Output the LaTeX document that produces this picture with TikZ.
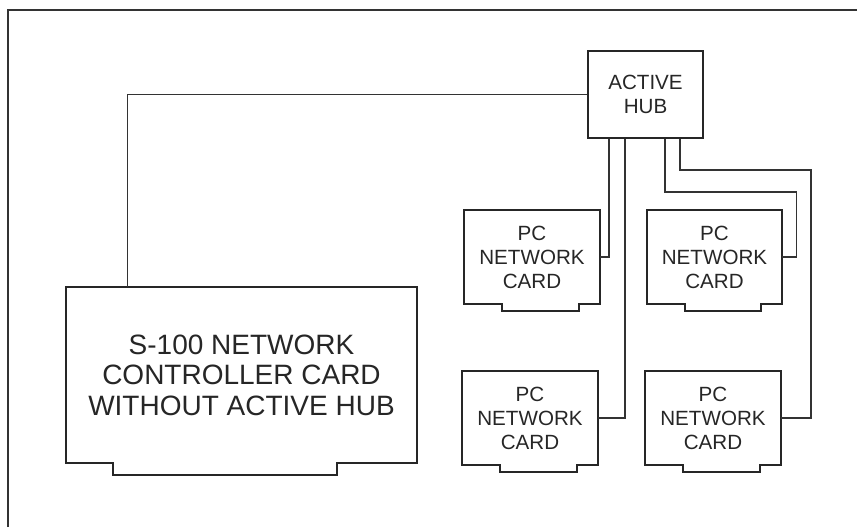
\documentclass[tikz,border=0pt]{standalone}
\usepackage{fontspec}
\setmainfont{Liberation Sans}
\usepackage{tikz}
\usetikzlibrary{calc}
\usetikzlibrary{positioning}

% card outline with a slot at the bottom edge
\newcommand{\slotedge}[4]{%
  \draw[cardline] (#1.south west) -- (#1.north west) -- (#1.north east)
    -- (#1.south east) -- ++(-#3,0) -- ++(0,#4)
    -| ($(#1.south west)+(#2,0)$) -- cycle;
}

\begin{document}
\begin{tikzpicture}[
  x=0.5pt, y=-0.5pt,
  every node/.style={text=black!85},
  cardline/.style={draw=black!85, line width=1pt, line join=miter},
  wire/.style={draw=black!80, line width=0.6pt},
  frame/.style={draw=black!80, line width=1.1pt},
  pccard/.style={minimum width=67.5pt, minimum height=47pt, inner sep=0pt,
    align=center, font=\fontsize{10.3}{12}\selectfont},
  hubbox/.style={draw=black!85, line width=1pt, minimum width=57.5pt,
    minimum height=43.5pt, inner sep=0pt, align=center,
    font=\fontsize{10.3}{12}\selectfont},
  bigcard/.style={minimum width=175.5pt, minimum height=88pt, inner sep=0pt,
    align=center, font=\fontsize{14}{15.3}\selectfont}
]
\useasboundingbox (0,0) rectangle (857,527);
\draw[frame] (8,527) -- (8,10) -- (857,10);

\node[hubbox] (hub) at (645.5,94.5) {ACTIVE\\HUB};
\node[bigcard] (s100) at (241.5,375) {S-100 NETWORK\\CONTROLLER CARD\\WITHOUT ACTIVE HUB};
\node[pccard] (pctl) at (532,257) {PC\\NETWORK\\CARD};
\node[pccard] (pctr) at (714.5,257) {PC\\NETWORK\\CARD};
\node[pccard] (pcbl) at (530,418) {PC\\NETWORK\\CARD};
\node[pccard] (pcbr) at (713,418) {PC\\NETWORK\\CARD};

\slotedge{s100}{47}{80}{12}
\slotedge{pctl}{38}{21}{7}
\slotedge{pctr}{38}{21}{7}
\slotedge{pcbl}{38}{21}{7}
\slotedge{pcbr}{38}{21}{7}

% wiring
\draw[wire] (hub.west) -| ($(s100.north west)+(62,0)$);
\draw[wire] (pctl.east) -| ($(hub.south west)+(22,0)$);
\draw[wire] (pcbl.east) -| ($(hub.south west)+(38,0)$);
\draw[wire] ($(hub.south west)+(78,0)$) -- ++(0,53) -| ($(pctr.east)+(14,0)$) -- (pctr.east);
\draw[wire] ($(hub.south west)+(93,0)$) -- ++(0,31) -| ($(pcbr.east)+(30,0)$) -- (pcbr.east);
\end{tikzpicture}
\end{document}
